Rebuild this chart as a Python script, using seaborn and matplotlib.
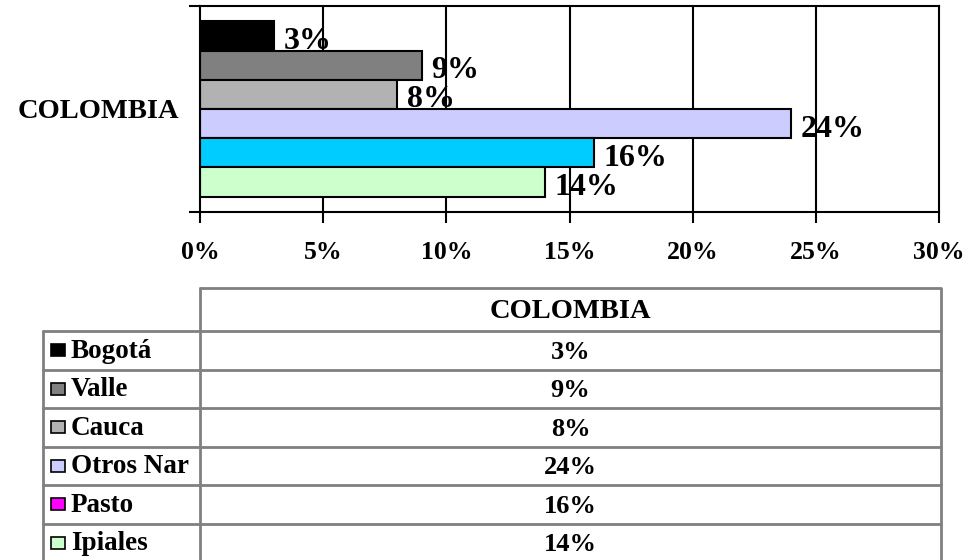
import matplotlib
matplotlib.use("Agg")
import matplotlib.pyplot as plt
from matplotlib.patches import Rectangle
from matplotlib.ticker import FuncFormatter, FixedLocator
import seaborn as sns
import pandas as pd

# datos
pais = "COLOMBIA"
regiones = ["Bogotá", "Valle", "Cauca", "Otros Nar", "Pasto", "Ipiales"]
porcentajes = [3, 9, 8, 24, 16, 14]
colores_barras = ["#000000", "#808080", "#b2b2b2", "#ccccff", "#00ccff", "#ccffcc"]
colores_leyenda = ["#000000", "#808080", "#b2b2b2", "#ccccff", "#ff00ff", "#ccffcc"]
ticks_x = [0, 5, 10, 15, 20, 25, 30]

df = pd.DataFrame({"pais": pais, "region": regiones, "pct": porcentajes})

sns.set_style("white")
plt.rcParams["font.family"] = ["Liberation Serif", "DejaVu Serif"]
plt.rcParams["font.weight"] = "bold"
plt.rcParams["text.color"] = "black"
plt.rcParams["xtick.color"] = "black"
plt.rcParams["ytick.color"] = "black"
plt.rcParams["xtick.labelcolor"] = "black"
plt.rcParams["ytick.labelcolor"] = "black"

W, H = 972, 560
fig = plt.figure(figsize=(W / 100, H / 100), dpi=100)

# --- grafico de barras ---
ax = fig.add_axes([200 / W, (H - 212) / H, (939 - 200) / W, (212 - 6) / H])
sns.barplot(data=df, y="pais", x="pct", hue="region", hue_order=regiones,
            palette=colores_barras, saturation=1, orient="h", width=0.85, dodge=True,
            edgecolor="black", linewidth=1.5, legend=False, ax=ax)

ax.set_xlim(0, 30)
ax.set_ylim(0.5, -0.5)
ax.xaxis.set_major_locator(FixedLocator(ticks_x))
ax.xaxis.set_major_formatter(FuncFormatter(lambda v, p: f"{v:.0f}%"))
ax.set_xlabel("")
ax.set_ylabel("")
ax.set_axisbelow(True)
for v in ticks_x[1:-1]:
    ax.axvline(v, color="black", lw=1.5, zorder=0)
for s in ax.spines.values():
    s.set_color("black")
    s.set_linewidth(1.5)
ax.tick_params(axis="x", bottom=True, direction="out", length=8, width=1.5,
               color="black", labelsize=18.5, pad=13)
ax.tick_params(axis="y", which="major", left=True, length=0, labelsize=20.5, pad=15)
ax.set_yticks([-0.5, 0.5], minor=True)
ax.tick_params(axis="y", which="minor", left=True, direction="out", length=8,
               width=1.5, color="black")
for lab in ax.get_xticklabels() + ax.get_yticklabels():
    lab.set_fontweight("bold")
    lab.set_color("black")

for cont, val in zip(ax.containers, porcentajes):
    for patch in cont:
        ax.annotate(f"{val}%", (patch.get_width(), patch.get_y() + patch.get_height() / 2),
                    xytext=(7, -4), textcoords="offset points", ha="left", va="center",
                    fontsize=23, fontweight="bold", color="black")

# --- tabla ---
tx = fig.add_axes([0, 0, 1, 1], zorder=-1)
tx.set_xlim(0, W)
tx.set_ylim(H, 0)
tx.axis("off")

gris = "#808080"
x0, x1, x2 = 43, 200, 941
y_top, y_head = 288, 331
row_h = 38.5
n = len(regiones)
y_bottom = y_head + row_h * n

tx.plot([x1, x2, x2], [y_top, y_top, y_bottom], color=gris, lw=2)
tx.plot([x1, x1], [y_top, y_bottom], color=gris, lw=2)
tx.plot([x0, x0], [y_head, y_bottom], color=gris, lw=2)
for i in range(n + 1):
    y = y_head + row_h * i
    tx.plot([x0, x2], [y, y], color=gris, lw=2)

xc = (x1 + x2) / 2
tx.text(xc, (y_top + y_head) / 2 + 2, pais, ha="center", va="center",
        fontsize=20.5, fontweight="bold")
for i, (reg, val, col) in enumerate(zip(regiones, porcentajes, colores_leyenda)):
    yc = y_head + row_h * (i + 0.5)
    tx.add_patch(Rectangle((51, yc - 6), 14, 12, facecolor=col, edgecolor="black", lw=1.2))
    tx.text(71, yc + 1, reg, ha="left", va="center", fontsize=19.5, fontweight="bold")
    tx.text(xc, yc + 2, f"{val}%", ha="center", va="center", fontsize=19, fontweight="bold")

fig.savefig("out.png", dpi=100, facecolor="white")
